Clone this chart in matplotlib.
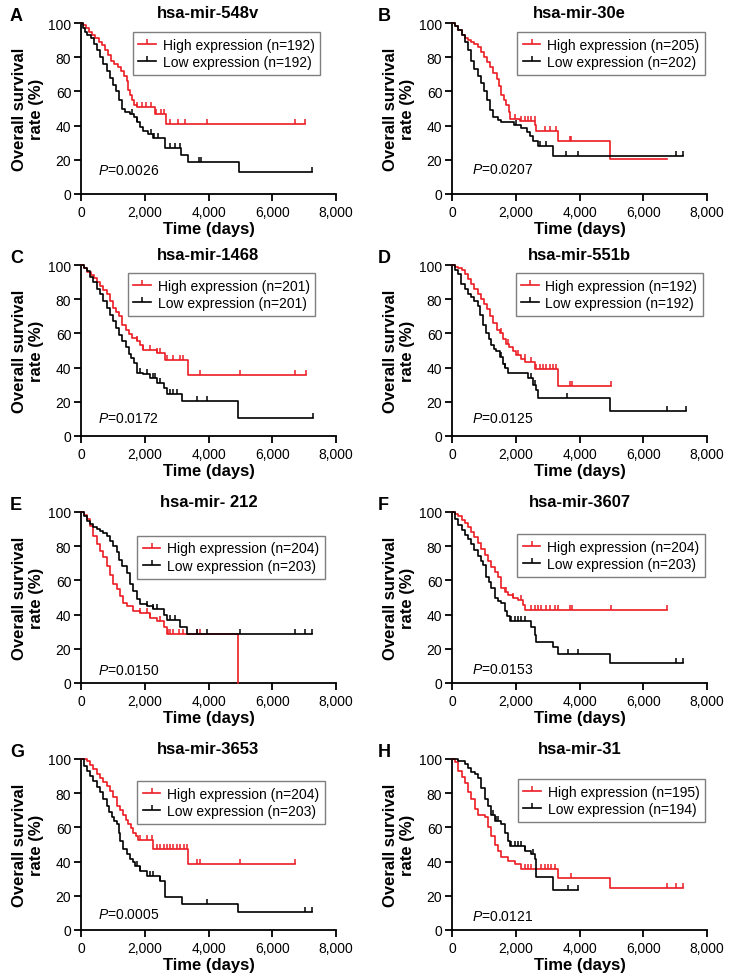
import numpy as np
import matplotlib
matplotlib.use('Agg')
import matplotlib.pyplot as plt
from matplotlib.lines import Line2D
from matplotlib.ticker import FuncFormatter

plt.rcParams['font.family'] = ['Liberation Sans', 'DejaVu Sans']
plt.rcParams['mathtext.fontset'] = 'custom'
plt.rcParams['mathtext.rm'] = 'Liberation Sans'
plt.rcParams['mathtext.it'] = 'Liberation Sans:italic'

# ---------------- data ----------------
letters = ['A', 'B', 'C', 'D', 'E', 'F', 'G', 'H']
titles = ['hsa-mir-548v', 'hsa-mir-30e', 'hsa-mir-1468', 'hsa-mir-551b',
          'hsa-mir- 212', 'hsa-mir-3607', 'hsa-mir-3653', 'hsa-mir-31']
p_values = ['0.0026', '0.0207', '0.0172', '0.0125', '0.0150', '0.0153', '0.0005', '0.0121']
n_high = [192, 205, 201, 192, 204, 204, 204, 195]
n_low = [192, 202, 201, 192, 203, 203, 203, 194]

# Panel A
A_high_t = [0, 60, 150, 250, 350, 450, 550, 650, 750, 850, 950, 1050, 1150, 1250, 1350, 1430, 1490, 1540, 1600, 1660, 1750, 2320, 2680]
A_high_s = [100, 99, 97, 95, 93, 91, 89, 87, 84, 81, 78, 76, 74, 72, 69, 66, 61, 58, 55, 52, 51, 47, 41]
A_high_end = 7040
A_high_c = [1750, 1900, 2050, 2200, 2350, 2500, 2600, 2800, 3050, 3270, 3950, 6720, 7040]
A_low_t = [0, 50, 120, 200, 300, 400, 500, 600, 700, 800, 900, 1000, 1100, 1200, 1300, 1380, 1550, 1650, 1750, 1850, 1950, 2100, 2250, 2650, 3150, 3350, 4950]
A_low_s = [100, 97, 95, 93, 91, 88, 84, 80, 76, 72, 68, 64, 60, 55, 50, 48, 47, 45, 42, 39, 37, 35, 33, 27, 23, 19, 13]
A_low_end = 7245
A_low_c = [1600, 1750, 2200, 2300, 2400, 2800, 2950, 3100, 3700, 3750, 7245]

# Panel B
B_high_t = [0, 100, 200, 300, 400, 500, 600, 700, 800, 900, 1000, 1100, 1200, 1300, 1400, 1480, 1550, 1620, 1700, 1780, 1830, 2120, 2600, 2650, 3340, 4950]
B_high_s = [100, 98, 96, 93, 91, 90, 89, 88, 86, 83, 80, 77, 74, 71, 67, 63, 58, 55, 52, 48, 44, 42.5, 40.5, 37, 31, 20.7]
B_high_end = 6730
B_high_c = [1970, 2180, 2280, 2390, 2490, 2590, 2910, 3070, 3270, 3690, 3740]
B_low_t = [0, 100, 200, 300, 400, 500, 600, 700, 800, 900, 1000, 1100, 1200, 1300, 1450, 1550, 1950, 2150, 2350, 2450, 2550, 2700, 3170]
B_low_s = [100, 98, 96, 93, 89, 84, 78, 73, 69, 65, 60, 55, 49, 45, 43.5, 42, 40.5, 38.5, 36, 34, 31, 28, 22.5]
B_low_end = 7250
B_low_c = [2020, 2750, 2960, 3590, 3950, 7040, 7250]

# Panel C
C_high_t = [0, 100, 200, 300, 400, 500, 600, 700, 800, 900, 1000, 1100, 1200, 1300, 1400, 1500, 1600, 1750, 1850, 1960, 2380, 2640, 3370]
C_high_s = [100, 98, 96, 94, 92.5, 90, 88, 85.5, 83, 79, 75, 72.5, 70, 65, 62, 59.5, 57.5, 55.5, 53, 50.5, 48.5, 44.7, 35.9]
C_high_end = 7070
C_high_c = [1750, 1960, 2170, 2380, 2480, 2690, 2900, 3110, 3210, 3740, 4990, 6720, 7070]
C_low_t = [0, 80, 180, 280, 390, 500, 600, 700, 800, 900, 1000, 1100, 1200, 1300, 1400, 1500, 1580, 1650, 1750, 1950, 2170, 2380, 2590, 2690, 3160, 4940]
C_low_s = [100, 98, 96.5, 93, 90, 86, 83, 79, 75, 71, 67, 63, 59, 55.5, 52, 48, 45.5, 42.5, 37, 36, 34, 31, 28, 24.5, 20.6, 10.4]
C_low_end = 7280
C_low_c = [1850, 2060, 2270, 2320, 2480, 2800, 2900, 3010, 3630, 3950, 7280]

# Panel D
D_high_t = [0, 100, 200, 300, 400, 500, 600, 700, 800, 900, 1000, 1100, 1200, 1300, 1400, 1500, 1600, 1700, 1800, 1900, 2000, 2150, 2300, 2590, 3330]
D_high_s = [100, 99, 98.5, 97, 95, 92, 89, 86, 83, 80, 77, 74, 70, 66, 62, 60, 57, 54, 52, 50, 47.5, 45, 43.5, 39.4, 29.4]
D_high_end = 4980
D_high_c = [1550, 1760, 2070, 2280, 2490, 2650, 2750, 2860, 2960, 3060, 3170, 3270, 3690, 3750, 4980]
D_low_t = [0, 100, 190, 290, 400, 500, 600, 700, 800, 870, 970, 1080, 1150, 1230, 1320, 1390, 1500, 1600, 1650, 1760, 2390, 2540, 2650, 2700, 4950]
D_low_s = [100, 97, 94.5, 89, 86, 83, 81, 79, 76, 71, 65, 60, 57, 53.5, 51, 49.5, 46, 42, 40, 37, 34, 30, 27, 22, 14.7]
D_low_end = 7350
D_low_c = [1550, 1650, 2490, 2590, 3620, 6730, 7350]

# Panel E
E_high_t = [0, 100, 180, 280, 390, 490, 600, 700, 800, 910, 1015, 1120, 1220, 1330, 1430, 1640, 1850, 2170, 2380, 2590, 2690, 4940]
E_high_s = [100, 98, 96, 92, 86, 81, 77, 73.5, 68.5, 63, 58, 55, 51, 47, 45, 42, 41, 38, 36, 33, 28.4, 0]
E_high_end = 4940
E_high_c = [1850, 2060, 2170, 2480, 2740, 2800, 2900, 3060, 3210, 3630, 3740]
E_low_t = [0, 100, 180, 280, 390, 500, 600, 700, 800, 900, 1015, 1120, 1200, 1280, 1430, 1540, 1640, 1750, 1850, 2060, 2270, 2590, 2690, 3110, 3320]
E_low_s = [100, 97.5, 95, 93, 91, 90, 89, 87.5, 86, 83, 80, 76.5, 72, 68.5, 64.5, 58, 54, 49, 46, 45, 43, 40, 37, 33, 28.4]
E_low_end = 7245
E_low_c = [2060, 2270, 2380, 2800, 2950, 3630, 3950, 4990, 6720, 7040, 7245]

# Panel F
F_high_t = [0, 100, 190, 300, 400, 500, 610, 700, 815, 920, 1025, 1130, 1230, 1340, 1440, 1550, 1650, 1760, 1900, 2070, 2230, 2300]
F_high_s = [100, 99, 97.5, 95.5, 93.5, 91, 88.5, 85.5, 82, 78.5, 75, 71.5, 68, 65, 62, 55.5, 53, 51.5, 50, 48.5, 45.5, 42.7]
F_high_end = 6730
F_high_c = [1700, 1910, 2180, 2490, 2590, 2700, 2800, 2960, 3070, 3220, 3330, 3690, 3750, 5000, 6730]
F_low_t = [0, 100, 190, 300, 400, 500, 610, 700, 815, 900, 970, 1080, 1150, 1230, 1340, 1450, 1550, 1650, 1730, 1810, 2490, 2590, 2650, 3170, 3330, 4950]
F_low_s = [100, 96, 92.5, 89.5, 86.5, 84, 81, 78, 74, 71.5, 69, 62, 59, 55.5, 49.5, 48, 46.5, 42, 39, 36, 33, 28, 24, 21, 17, 11.7]
F_low_end = 7250
F_low_c = [1860, 1970, 2070, 2180, 2280, 3640, 3950, 7040, 7250]

# Panel G
G_high_t = [0, 100, 180, 290, 390, 500, 600, 700, 800, 900, 1015, 1120, 1220, 1330, 1410, 1490, 1570, 1640, 1720, 1800, 2270, 3370]
G_high_s = [100, 100, 99, 96.5, 94, 91.5, 89, 86.5, 84, 81, 77.5, 72.5, 70, 67, 64.5, 62, 59.5, 57, 55, 52.5, 47.4, 38.6]
G_high_end = 6720
G_high_c = [1850, 2060, 2220, 2380, 2480, 2590, 2690, 2800, 2900, 3000, 3110, 3220, 3320, 3630, 3740, 4990, 6720]
G_low_t = [0, 80, 180, 290, 390, 500, 600, 700, 800, 880, 960, 1040, 1120, 1180, 1220, 1330, 1440, 1540, 1620, 1700, 1850, 2060, 2480, 2640, 3160, 4940]
G_low_s = [100, 96, 93, 90, 87, 83.5, 80.5, 76.5, 72.7, 69, 66, 64, 62, 57, 52, 47.4, 44.5, 41.5, 39.5, 37.6, 34.7, 31.8, 28.8, 19.1, 15.2, 10.3]
G_low_end = 7245
G_low_c = [1750, 1850, 2170, 2270, 2480, 3950, 7040, 7245]

# Panel H
H_high_t = [0, 85, 190, 300, 400, 500, 610, 710, 815, 1025, 1130, 1230, 1340, 1440, 1550, 1760, 1970, 2180, 3330, 4950]
H_high_s = [100, 98, 93, 89.5, 86, 80.5, 76.5, 71, 67, 66, 60, 55, 50, 46.4, 42.5, 40.5, 38.6, 35.7, 30.4, 24.6]
H_high_end = 7250
H_high_c = [2280, 2390, 2490, 2800, 2910, 3010, 3120, 3220, 3740, 6730, 7040, 7250]
H_low_t = [0, 190, 400, 500, 610, 710, 815, 920, 1025, 1130, 1230, 1340, 1550, 1650, 1760, 1810, 2280, 2490, 2590, 2650, 3170]
H_low_s = [100, 99, 97, 95, 92.5, 91, 89, 83, 76.5, 72.5, 67, 64, 62, 57, 52, 49.3, 46.4, 44.4, 41.5, 30.8, 23.4]
H_low_end = 3950
H_low_c = [1290, 1390, 1440, 1860, 1970, 2070, 2180, 2280, 2540, 3640, 3950]

x_ticks = [0, 2000, 4000, 6000, 8000]
y_ticks = [0, 20, 40, 60, 80, 100]

high_curves = [
    (A_high_t, A_high_s, A_high_end, A_high_c), (B_high_t, B_high_s, B_high_end, B_high_c),
    (C_high_t, C_high_s, C_high_end, C_high_c), (D_high_t, D_high_s, D_high_end, D_high_c),
    (E_high_t, E_high_s, E_high_end, E_high_c), (F_high_t, F_high_s, F_high_end, F_high_c),
    (G_high_t, G_high_s, G_high_end, G_high_c), (H_high_t, H_high_s, H_high_end, H_high_c)]
low_curves = [
    (A_low_t, A_low_s, A_low_end, A_low_c), (B_low_t, B_low_s, B_low_end, B_low_c),
    (C_low_t, C_low_s, C_low_end, C_low_c), (D_low_t, D_low_s, D_low_end, D_low_c),
    (E_low_t, E_low_s, E_low_end, E_low_c), (F_low_t, F_low_s, F_low_end, F_low_c),
    (G_low_t, G_low_s, G_low_end, G_low_c), (H_low_t, H_low_s, H_low_end, H_low_c)]

# ---------------- layout ----------------
W, H = 731, 979
fig = plt.figure(figsize=(W / 100, H / 100), dpi=100)

col_left = [81, 452]
row_top = [24, 266, 513, 760]
ax_w, ax_h = 255, 171
legend_anchor = [(0.937, 0.947), (0.992, 0.947), (0.918, 0.953), (0.984, 0.953),
                 (0.957, 0.86), (0.992, 0.871), (0.957, 0.871), (0.992, 0.883)]
p_pos = [(0.067, 0.14), (0.078, 0.146), (0.067, 0.105), (0.078, 0.105),
         (0.067, 0.076), (0.078, 0.082), (0.067, 0.094), (0.078, 0.082)]

RED = '#ec1c24'
BLACK = '#000000'
tick_marker = [(0, 0), (0, 1)]
LW = 1.2
MS = 7


def draw_curve(ax, t, s, end, cens, color):
    tt = list(t) + [end]
    ss = list(s) + [s[-1]]
    ax.step(tt, ss, where='post', color=color, lw=LW, clip_on=False, zorder=3)
    tarr = np.asarray(t)
    sarr = np.asarray(s)
    idx = np.searchsorted(tarr, np.asarray(cens), side='right') - 1
    ax.plot(cens, sarr[idx], linestyle='none', marker=tick_marker, ms=MS,
            mec=color, mew=1.1, clip_on=False, zorder=3)


for i in range(8):
    r, c = divmod(i, 2)
    left = col_left[c] / W
    bottom = 1 - (row_top[r] + ax_h) / H
    ax = fig.add_axes([left, bottom, ax_w / W, ax_h / H])

    draw_curve(ax, *high_curves[i], RED)
    draw_curve(ax, *low_curves[i], BLACK)

    ax.set_xlim(0, 8000)
    ax.set_ylim(0, 100)
    ax.set_xticks(x_ticks)
    ax.set_yticks(y_ticks)
    ax.xaxis.set_major_formatter(FuncFormatter(lambda v, p: f'{int(v):,}'))
    for sp in ['top', 'right']:
        ax.spines[sp].set_visible(False)
    for sp in ['left', 'bottom']:
        ax.spines[sp].set_linewidth(1.3)
    ax.tick_params(direction='out', length=5, width=1.3, labelsize=10, pad=2)
    ax.tick_params(axis='x', pad=3)

    ax.set_title(titles[i], fontsize=12, fontweight='bold', pad=4)
    ax.set_ylabel('Overall survival\nrate (%)', fontsize=12, fontweight='bold', linespacing=1.2)
    ax.yaxis.set_label_coords(-0.145, 0.5)
    ax.set_xlabel('Time (days)', fontsize=12, fontweight='bold')
    ax.xaxis.set_label_coords(0.5, -0.158)

    handles = [
        Line2D([], [], color=RED, lw=LW, marker=tick_marker, ms=MS, mec=RED, mew=1.1),
        Line2D([], [], color=BLACK, lw=LW, marker=tick_marker, ms=MS, mec=BLACK, mew=1.1)]
    labels = [f'High expression (n={n_high[i]})', f'Low expression (n={n_low[i]})']
    leg = ax.legend(handles, labels, loc='upper right', bbox_to_anchor=legend_anchor[i],
                    borderaxespad=0, fontsize=10, numpoints=1, handlelength=1.25,
                    handletextpad=0.5, labelspacing=0.25, borderpad=0.4,
                    fancybox=False, framealpha=1, edgecolor='#7f7f7f')
    leg.get_frame().set_linewidth(1.0)

    ax.text(p_pos[i][0], p_pos[i][1], f'$P$={p_values[i]}', transform=ax.transAxes,
            fontsize=10, ha='left', va='center')

    fig.text((10 if c == 0 else 378) / W, 1 - (row_top[r] - 16) / H, letters[i],
             fontsize=13, fontweight='bold', ha='left', va='top')

fig.savefig('out.png', dpi=100)
